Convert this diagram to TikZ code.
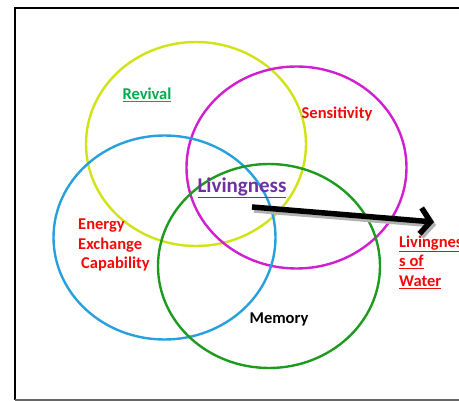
\documentclass[tikz,border=0pt]{standalone}
\usepackage{fontspec}
\setmainfont{Carlito}
\usetikzlibrary{arrows.meta}
\usetikzlibrary{positioning}

\definecolor{ringyellow}{RGB}{208,228,20}
\definecolor{ringpink}{RGB}{208,30,208}
\definecolor{ringblue}{RGB}{40,160,222}
\definecolor{ringgreen}{RGB}{30,155,30}
\definecolor{txtred}{RGB}{240,10,10}
\definecolor{txtgreen}{RGB}{0,170,80}
\definecolor{txtpurple}{RGB}{112,48,160}

\tikzset{
  ring/.style={line width=2.4pt},
  lbl/.style={font=\fontsize{16.5}{19.5}\selectfont\bfseries, inner sep=0pt},
  bigarrow/.style={line width=5.5pt, -{Straight Barb[length=10pt,width=26pt]}},
}

\begin{document}
\begin{tikzpicture}[x=1pt, y=-1pt]
\useasboundingbox (0,0) rectangle (459,401);
% frame
\draw[black, line width=2pt] (459,8) -- (15,8) -- (15,400);
\draw[gray!80!black, line width=1.5pt] (15,400) -- (459,400);

% rings
\draw[ring, ringyellow] (196,144) ellipse (110pt and 102pt);
\draw[ring, ringpink]   (296.5,167.5) ellipse (110pt and 101pt);
\draw[ring, ringblue]   (164.5,237.5) ellipse (111pt and 102pt);
\draw[ring, ringgreen]  (269,266) ellipse (111pt and 102pt);

% labels
\node[lbl, txtgreen] (revival) at (147,95) {\underline{Revival}};
\node[lbl, txtred] (sensitivity) at (337,114) {Sensitivity};
\node[lbl, txtpurple, font=\fontsize{21}{25}\selectfont\bfseries] (living) at (242,188) {\underline{Livingness}};
\node[lbl, txtred, align=left, anchor=west] (energy) at (78,245) {Energy\\Exchange\\\hspace{3pt}Capability};
\node[lbl, black] (memory) at (279,319) {Memory};
\node[lbl, txtred, align=left, anchor=west] (water) at (399,262) {\underline{Livingnes}\\\underline{s of}\\\underline{Water}};

% arrow
\coordinate (tail) at (252,207);
\coordinate (head) at (434,222);
\draw[bigarrow, gray!60] ([shift={(2,3)}]tail) -- ([shift={(2,3)}]head);
\draw[bigarrow, black] (tail) -- (head);
\end{tikzpicture}
\end{document}
